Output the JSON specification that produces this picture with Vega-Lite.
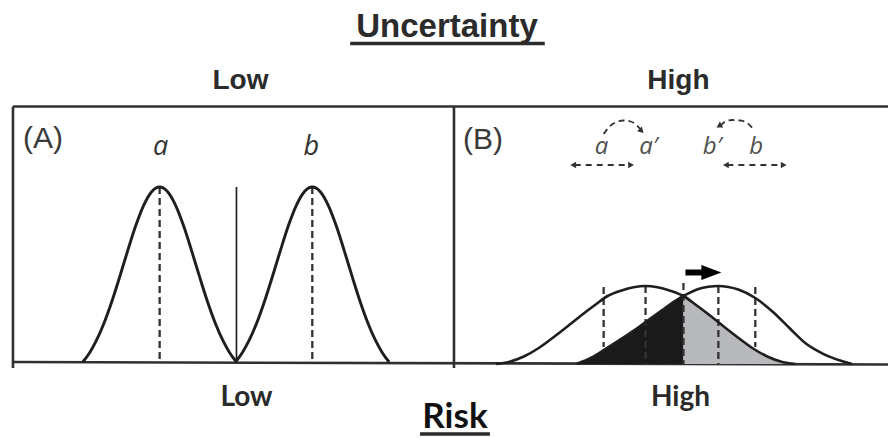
{
  "$schema": "https://vega.github.io/schema/vega-lite/v6.json",
  "width": 890,
  "height": 438,
  "autosize": {"type": "fit", "contains": "padding"},
  "padding": 0,
  "background": "white",
  "config": {"view": {"stroke": null}},
  "encoding": {
    "x": {"field": "x", "type": "quantitative", "scale": {"domain": [0, 890], "nice": false, "zero": false}, "axis": null},
    "y": {"field": "y", "type": "quantitative", "scale": {"domain": [0, 438], "nice": false, "zero": false, "reverse": true}, "axis": null}
  },
  "layer": [
    {
      "data": {"values": [
        {"x": 13, "y": 106.5, "x2": 890, "y2": 106.5},
        {"x": 13, "y": 106.5, "x2": 13, "y2": 368},
        {"x": 455, "y": 106.5, "x2": 455, "y2": 368},
        {"x": 13, "y": 362, "x2": 890, "y2": 364.5}
      ]},
      "mark": {"type": "rule", "color": "#303030", "strokeWidth": 2.6},
      "encoding": {"x2": {"field": "x2"}, "y2": {"field": "y2"}}
    },
    {
      "data": {"values": [
        {"x": 578, "y": 364, "base": 364},
        {"x": 593, "y": 357.5, "base": 364},
        {"x": 607, "y": 348.8, "base": 364},
        {"x": 620, "y": 340.5, "base": 364},
        {"x": 640, "y": 327.2, "base": 364},
        {"x": 663, "y": 310.5, "base": 364},
        {"x": 680, "y": 298.8, "base": 364},
        {"x": 685, "y": 296, "base": 364}
      ]},
      "mark": {"type": "area", "color": "#1a1a1a", "interpolate": "monotone", "opacity": 1},
      "encoding": {"y2": {"field": "base"}}
    },
    {
      "data": {"values": [
        {"x": 685, "y": 296, "base": 364},
        {"x": 697, "y": 304.5, "base": 364},
        {"x": 709, "y": 313.5, "base": 364},
        {"x": 721, "y": 323, "base": 364},
        {"x": 737, "y": 335.5, "base": 364},
        {"x": 754, "y": 348, "base": 364},
        {"x": 769, "y": 356.5, "base": 364},
        {"x": 784, "y": 362, "base": 364},
        {"x": 797, "y": 364, "base": 364}
      ]},
      "mark": {"type": "area", "color": "#b8b9bd", "interpolate": "monotone", "opacity": 1},
      "encoding": {"y2": {"field": "base"}}
    },
    {
      "data": {"values": [
        {"x": 160, "y": 187, "x2": 160, "y2": 362},
        {"x": 313, "y": 187, "x2": 313, "y2": 362},
        {"x": 605, "y": 287, "x2": 605, "y2": 347},
        {"x": 647, "y": 286, "x2": 647, "y2": 364},
        {"x": 685, "y": 283, "x2": 685, "y2": 364},
        {"x": 720, "y": 286, "x2": 720, "y2": 364},
        {"x": 757, "y": 287, "x2": 757, "y2": 347}
      ]},
      "mark": {"type": "rule", "color": "#333333", "strokeWidth": 2.3, "strokeDash": [7, 4]},
      "encoding": {"x2": {"field": "x2"}, "y2": {"field": "y2"}}
    },
    {
      "data": {"values": [{"x": 237, "y": 187, "x2": 237, "y2": 362}]},
      "mark": {"type": "rule", "color": "#222222", "strokeWidth": 1.7},
      "encoding": {"x2": {"field": "x2"}, "y2": {"field": "y2"}}
    },
    {
      "data": {"values": [
        {"c": "a", "x": 83, "y": 362}, {"c": "a", "x": 90, "y": 352.4}, {"c": "a", "x": 96, "y": 341.7},
        {"c": "a", "x": 104, "y": 323.7}, {"c": "a", "x": 112, "y": 301.7}, {"c": "a", "x": 120, "y": 276.7},
        {"c": "a", "x": 128, "y": 250.6}, {"c": "a", "x": 136, "y": 225.8}, {"c": "a", "x": 144, "y": 205.3},
        {"c": "a", "x": 152, "y": 191.7}, {"c": "a", "x": 160, "y": 187}, {"c": "a", "x": 168, "y": 191.7},
        {"c": "a", "x": 176, "y": 205.3}, {"c": "a", "x": 184, "y": 225.8}, {"c": "a", "x": 192, "y": 250.6},
        {"c": "a", "x": 200, "y": 276.7}, {"c": "a", "x": 208, "y": 301.7}, {"c": "a", "x": 216, "y": 323.7},
        {"c": "a", "x": 224, "y": 341.7}, {"c": "a", "x": 230, "y": 352.4}, {"c": "a", "x": 237, "y": 362},
        {"c": "b", "x": 236, "y": 362}, {"c": "b", "x": 243, "y": 352.4}, {"c": "b", "x": 249, "y": 341.7},
        {"c": "b", "x": 257, "y": 323.7}, {"c": "b", "x": 265, "y": 301.7}, {"c": "b", "x": 273, "y": 276.7},
        {"c": "b", "x": 281, "y": 250.6}, {"c": "b", "x": 289, "y": 225.8}, {"c": "b", "x": 297, "y": 205.3},
        {"c": "b", "x": 305, "y": 191.7}, {"c": "b", "x": 313, "y": 187}, {"c": "b", "x": 321, "y": 191.7},
        {"c": "b", "x": 329, "y": 205.3}, {"c": "b", "x": 337, "y": 225.8}, {"c": "b", "x": 345, "y": 250.6},
        {"c": "b", "x": 353, "y": 276.7}, {"c": "b", "x": 361, "y": 301.7}, {"c": "b", "x": 369, "y": 323.7},
        {"c": "b", "x": 377, "y": 341.7}, {"c": "b", "x": 383, "y": 352.4}, {"c": "b", "x": 390, "y": 362}
      ]},
      "mark": {"type": "line", "color": "#1e1e1e", "strokeWidth": 2.9, "interpolate": "monotone"},
      "encoding": {"detail": {"field": "c"}}
    },
    {
      "data": {"values": [
        {"c": "a2", "x": 497, "y": 364}, {"c": "a2", "x": 510, "y": 362}, {"c": "a2", "x": 525, "y": 356.5},
        {"c": "a2", "x": 540, "y": 348}, {"c": "a2", "x": 557, "y": 335.5}, {"c": "a2", "x": 573, "y": 323},
        {"c": "a2", "x": 585, "y": 313.5}, {"c": "a2", "x": 597, "y": 304.5}, {"c": "a2", "x": 609, "y": 296},
        {"c": "a2", "x": 623, "y": 290.5}, {"c": "a2", "x": 635, "y": 287.3}, {"c": "a2", "x": 647, "y": 286},
        {"c": "a2", "x": 659, "y": 287.3}, {"c": "a2", "x": 671, "y": 290.5}, {"c": "a2", "x": 685, "y": 296},
        {"c": "a2", "x": 697, "y": 304.5}, {"c": "a2", "x": 709, "y": 313.5}, {"c": "a2", "x": 721, "y": 323},
        {"c": "a2", "x": 737, "y": 335.5}, {"c": "a2", "x": 754, "y": 348}, {"c": "a2", "x": 769, "y": 356.5},
        {"c": "a2", "x": 784, "y": 362}, {"c": "a2", "x": 797, "y": 364},
        {"c": "b2", "x": 578, "y": 364}, {"c": "b2", "x": 593, "y": 357.5}, {"c": "b2", "x": 607, "y": 348.8},
        {"c": "b2", "x": 620, "y": 340.5}, {"c": "b2", "x": 640, "y": 327.2}, {"c": "b2", "x": 663, "y": 310.5},
        {"c": "b2", "x": 680, "y": 298.8}, {"c": "b2", "x": 685, "y": 296}, {"c": "b2", "x": 700, "y": 289},
        {"c": "b2", "x": 710, "y": 286.8}, {"c": "b2", "x": 720, "y": 286}, {"c": "b2", "x": 730, "y": 287},
        {"c": "b2", "x": 740, "y": 289.5}, {"c": "b2", "x": 757, "y": 298}, {"c": "b2", "x": 775, "y": 312.2},
        {"c": "b2", "x": 792, "y": 328.8}, {"c": "b2", "x": 808, "y": 343.8}, {"c": "b2", "x": 825, "y": 353.8},
        {"c": "b2", "x": 842, "y": 360.5}, {"c": "b2", "x": 854, "y": 364}
      ]},
      "mark": {"type": "line", "color": "#1e1e1e", "strokeWidth": 2.6, "interpolate": "monotone"},
      "encoding": {"detail": {"field": "c"}}
    },
    {
      "data": {"values": [{"x": 687, "y": 272.5, "x2": 706, "y2": 272.5}]},
      "mark": {"type": "rule", "color": "#000000", "strokeWidth": 6},
      "encoding": {"x2": {"field": "x2"}, "y2": {"field": "y2"}}
    },
    {
      "data": {"values": [{"x": 713, "y": 272.5}]},
      "mark": {"type": "point", "shape": "M -1 -0.75 L 1 0 L -1 0.75 Z", "size": 400, "filled": true, "color": "#000000", "opacity": 1}
    },
    {
      "data": {"values": [
        {"c": "arcA", "x": 605, "y": 134}, {"c": "arcA", "x": 611, "y": 126.5}, {"c": "arcA", "x": 618, "y": 122},
        {"c": "arcA", "x": 625, "y": 120.5}, {"c": "arcA", "x": 632, "y": 121.5}, {"c": "arcA", "x": 638, "y": 125},
        {"c": "arcA", "x": 642, "y": 129.5},
        {"c": "arcB", "x": 722, "y": 126}, {"c": "arcB", "x": 727, "y": 121.5}, {"c": "arcB", "x": 734, "y": 120},
        {"c": "arcB", "x": 742, "y": 120.5}, {"c": "arcB", "x": 749, "y": 123}, {"c": "arcB", "x": 755, "y": 129}
      ]},
      "mark": {"type": "line", "color": "#333333", "strokeWidth": 1.8, "strokeDash": [6, 4], "interpolate": "monotone"},
      "encoding": {"detail": {"field": "c"}}
    },
    {
      "data": {"values": [
        {"x": 576, "y": 165, "x2": 631, "y2": 165},
        {"x": 729, "y": 165, "x2": 784, "y2": 165}
      ]},
      "mark": {"type": "rule", "color": "#333333", "strokeWidth": 1.8, "strokeDash": [6, 5]},
      "encoding": {"x2": {"field": "x2"}, "y2": {"field": "y2"}}
    },
    {
      "data": {"values": [{"x": 574.5, "y": 165}, {"x": 727.5, "y": 165}]},
      "mark": {"type": "point", "shape": "triangle-left", "size": 45, "filled": true, "color": "#333333", "opacity": 1}
    },
    {
      "data": {"values": [{"x": 632.5, "y": 165}, {"x": 785.5, "y": 165}]},
      "mark": {"type": "point", "shape": "triangle-right", "size": 45, "filled": true, "color": "#333333", "opacity": 1}
    },
    {
      "data": {"values": [{"x": 721.5, "y": 124.5}]},
      "mark": {"type": "point", "shape": "triangle-up", "size": 45, "filled": true, "color": "#333333", "opacity": 1}
    },
    {
      "data": {"values": [{"x": 643, "y": 131}]},
      "mark": {"type": "point", "shape": "triangle-up", "angle": 135, "size": 45, "filled": true, "color": "#333333", "opacity": 1}
    },
    {
      "data": {"values": [{"x": 351, "y": 43.5, "x2": 546, "y2": 43.5}, {"x": 421, "y": 434, "x2": 491, "y2": 434}]},
      "mark": {"type": "rule", "color": "#2b2b2b", "strokeWidth": 3.5},
      "encoding": {"x2": {"field": "x2"}, "y2": {"field": "y2"}}
    },
    {
      "data": {"values": [{"x": 448, "y": 37, "t": "Uncertainty"}]},
      "mark": {"type": "text", "font": "Liberation Sans", "fontWeight": "bold", "fontSize": 33, "color": "#2b2b2b", "align": "center", "baseline": "alphabetic"},
      "encoding": {"text": {"field": "t"}}
    },
    {
      "data": {"values": [{"x": 241, "y": 88.5, "t": "Low"}, {"x": 680, "y": 88.5, "t": "High"}]},
      "mark": {"type": "text", "font": "Liberation Sans", "fontWeight": "bold", "fontSize": 28, "color": "#2b2b2b", "align": "center", "baseline": "alphabetic"},
      "encoding": {"text": {"field": "t"}}
    },
    {
      "data": {"values": [{"x": 43, "y": 148, "t": "(A)"}, {"x": 484, "y": 149, "t": "(B)"}]},
      "mark": {"type": "text", "font": "Liberation Sans", "fontSize": 30, "color": "#3a3a3a", "align": "center", "baseline": "alphabetic"},
      "encoding": {"text": {"field": "t"}}
    },
    {
      "data": {"values": [{"x": 161, "y": 155, "t": "a"}, {"x": 312, "y": 155, "t": "b"}]},
      "mark": {"type": "text", "font": "Open Sans", "fontStyle": "italic", "fontSize": 27, "color": "#333333", "align": "center", "baseline": "alphabetic"},
      "encoding": {"text": {"field": "t"}}
    },
    {
      "data": {"values": [
        {"x": 603, "y": 153.5, "t": "a"}, {"x": 650, "y": 153.5, "t": "a′"},
        {"x": 714, "y": 153.5, "t": "b′"}, {"x": 758, "y": 153.5, "t": "b"}
      ]},
      "mark": {"type": "text", "font": "Open Sans", "fontStyle": "italic", "fontSize": 24, "color": "#505050", "align": "center", "baseline": "alphabetic"},
      "encoding": {"text": {"field": "t"}}
    },
    {
      "data": {"values": [{"x": 247, "y": 405.5, "t": "Low"}, {"x": 682, "y": 406, "t": "High"}]},
      "mark": {"type": "text", "font": "Lato", "fontWeight": "bold", "fontSize": 28, "color": "#2a2a2a", "align": "center", "baseline": "alphabetic"},
      "encoding": {"text": {"field": "t"}}
    },
    {
      "data": {"values": [{"x": 456, "y": 428, "t": "Risk"}]},
      "mark": {"type": "text", "font": "Lato", "fontWeight": "bold", "fontSize": 35, "color": "#111111", "align": "center", "baseline": "alphabetic"},
      "encoding": {"text": {"field": "t"}}
    }
  ]
}
